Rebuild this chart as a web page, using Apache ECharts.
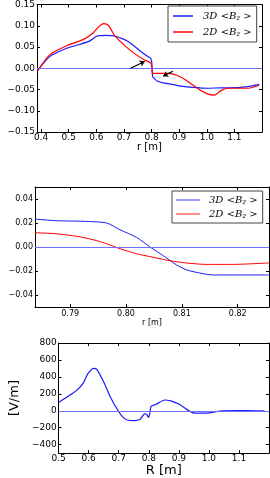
<!DOCTYPE html>
<html><head><meta charset="utf-8">
<script src="https://cdn.jsdelivr.net/npm/echarts@6/dist/echarts.min.js"></script>
<style>html,body{margin:0;padding:0;background:#fff}#c{width:270px;height:478px}</style>
</head><body><div id="c"></div>
<script>
// ---- Panel 1: <Bz> vs r ----
const p1BlueR = [0.386,0.432,0.493,0.542,0.578,0.603,0.634,0.663,0.700,0.724,0.761,0.785,0.797,0.801,0.804,0.810,0.820,0.846,0.875,0.907,0.950,1.004,1.050,1.077,1.140,1.190];
const p1BlueV = [-0.007,0.028,0.047,0.0565,0.065,0.076,0.0775,0.076,0.068,0.059,0.0395,0.028,0.023,0.012,-0.020,-0.024,-0.030,-0.035,-0.038,-0.042,-0.045,-0.047,-0.046,-0.046,-0.044,-0.038];
const p1RedR = [0.386,0.432,0.493,0.554,0.585,0.609,0.627,0.645,0.665,0.700,0.736,0.773,0.797,0.801,0.804,0.820,0.860,0.907,0.955,0.980,1.004,1.028,1.053,1.077,1.150,1.190];
const p1RedV = [-0.007,0.032,0.053,0.068,0.081,0.098,0.105,0.100,0.078,0.055,0.0356,0.020,0.012,0.000,-0.012,-0.012,-0.012,-0.021,-0.042,-0.053,-0.061,-0.063,-0.052,-0.047,-0.047,-0.040];
const p1ArrowFrom = [[0.724,0.000],[0.877,-0.007]];
const p1ArrowTo = [[0.775,0.016],[0.842,-0.0186]];
const p1XTicks = [0.4,0.5,0.6,0.7,0.8,0.9,1.0,1.1];
const p1YTicks = [-0.15,-0.10,-0.05,0.00,0.05,0.10,0.15];

// ---- Panel 2: zoom near r = 0.8 ----
const p2BlueR = [0.7837,0.7876,0.7923,0.7965,0.7989,0.8019,0.8043,0.8067,0.8090,0.8108,0.8132,0.8156,0.8192,0.8256];
const p2BlueV = [0.0233,0.0219,0.0214,0.0200,0.0144,0.0080,0.0000,-0.0073,-0.0148,-0.0190,-0.0217,-0.0233,-0.0233,-0.0233];
const p2RedR = [0.7837,0.7876,0.7912,0.7941,0.7965,0.7989,0.8019,0.8049,0.8078,0.8108,0.8144,0.8190,0.8256];
const p2RedV = [0.0119,0.0110,0.0089,0.0061,0.0028,-0.0014,-0.0056,-0.0086,-0.0114,-0.0133,-0.0145,-0.0145,-0.0133];
const p2XTicks = [0.79,0.80,0.81,0.82];
const p2YTicks = [-0.04,-0.02,0.00,0.02,0.04];

// ---- Panel 3: field [V/m] vs R ----
const p3R = [0.500,0.532,0.562,0.582,0.597,0.617,0.627,0.652,0.672,0.698,0.713,0.728,0.753,0.771,0.786,0.793,0.799,0.804,0.808,0.823,0.853,0.873,0.903,0.933,0.953,0.983,1.013,1.044,1.100,1.150,1.185];
const p3V = [98,171,247,326,435,500,489,326,163,0,-72,-109,-117,-101,-36,-43,-79,-20,54,73,127,116,73,0,-29,-29,-18,0,2,0,0];
const p3XTicks = [0.5,0.6,0.7,0.8,0.9,1.0,1.1];
const p3YTicks = [-400,-200,0,200,400,600,800];

const zip = (a,b) => a.map((x,i)=>[x,b[i]]);
const minus = s => s.replace('-', '\u2212');
const FONT = 'DejaVu Sans';
const BLUE = '#1a1aff', RED = '#ff0000', ZERO = '#6f6fff';

function xPair(grid, min, max, ticks, dec, fs, margin, name, nameGap, nameSize) {
  return [{
    type:'value', gridIndex:grid, min:min, max:max, position:'bottom',
    name:name, nameLocation:'middle', nameGap:nameGap,
    nameTextStyle:{fontFamily:FONT, fontSize:nameSize, color:'#000'},
    axisLine:{show:true, onZero:false, lineStyle:{color:'#000', width:1}},
    axisTick:{show:true, inside:true, length:3, customValues:ticks, lineStyle:{color:'#000'}},
    axisLabel:{show:true, customValues:ticks, margin:margin, fontFamily:FONT, fontSize:fs, color:'#000',
      formatter:v=>minus(v.toFixed(dec))},
    splitLine:{show:false}
  },{
    type:'value', gridIndex:grid, min:min, max:max, position:'top',
    axisLine:{show:true, onZero:false, lineStyle:{color:'#000', width:1}},
    axisTick:{show:true, inside:true, length:3, customValues:ticks, lineStyle:{color:'#000'}},
    axisLabel:{show:false}, splitLine:{show:false}
  }];
}
function yPair(grid, min, max, ticks, dec, fs, name, nameGap) {
  return [{
    type:'value', gridIndex:grid, min:min, max:max, position:'left',
    name:name||'', nameLocation:'middle', nameGap:nameGap||0,
    nameTextStyle:{fontFamily:FONT, fontSize:13, color:'#000'},
    axisLine:{show:true, onZero:false, lineStyle:{color:'#000', width:1}},
    axisTick:{show:true, inside:true, length:3, customValues:ticks, lineStyle:{color:'#000'}},
    axisLabel:{show:true, customValues:ticks, margin:2, fontFamily:FONT, fontSize:fs, color:'#000',
      formatter:v=>minus(v.toFixed(dec))},
    splitLine:{show:false}
  },{
    type:'value', gridIndex:grid, min:min, max:max, position:'right',
    axisLine:{show:true, onZero:false, lineStyle:{color:'#000', width:1}},
    axisTick:{show:true, inside:true, length:3, customValues:ticks, lineStyle:{color:'#000'}},
    axisLabel:{show:false}, splitLine:{show:false}
  }];
}

const legendRich = {
  it:{fontFamily:'DejaVu Serif', fontStyle:'italic', fontSize:10, color:'#000'},
  n:{fontFamily:'DejaVu Serif', fontSize:10, color:'#000'},
  sub:{fontFamily:'DejaVu Serif', fontStyle:'italic', fontSize:7, color:'#000', padding:[4,0,0,0]}
};
const legendFmt = name => (name.startsWith('3D') ? '{it|3D} {n|<}{it|B}{sub|z}{n| >}' : '{it|2D} {n|<}{it|B}{sub|z}{n| >}');

function lineSeries(name, x, y, xi, yi, color, w, zero) {
  const s = {type:'line', name:name, xAxisIndex:xi, yAxisIndex:yi, data:zip(x,y),
    showSymbol:false, symbol:'none', smooth:0.25,
    lineStyle:{color:color, width:w}, itemStyle:{color:color}, z:3, animation:false};
  if (zero) s.markLine = {silent:true, symbol:'none', label:{show:false},
    lineStyle:{color:ZERO, width:1, type:'solid'}, data:[{yAxis:0}], animation:false};
  return s;
}

const option = {
  animation:false,
  backgroundColor:'#fff',
  grid:[
    {left:37, top:3, width:225, height:129},
    {left:35, top:187, width:234, height:120},
    {left:36, top:343, width:233, height:120}
  ],
  xAxis:[
    ...xPair(0, 0.385, 1.2, p1XTicks, 1, 9, 1, 'r [m]', 8, 10),
    ...xPair(1, 0.7837, 0.8256, p2XTicks, 2, 8, 3, 'r [m]', 10, 8),
    ...xPair(2, 0.5, 1.2, p3XTicks, 1, 9, 1, 'R [m]', 9, 13)
  ],
  yAxis:[
    ...yPair(0, -0.15, 0.15, p1YTicks, 2, 9),
    ...yPair(1, -0.05, 0.05, p2YTicks, 2, 8),
    ...yPair(2, -500, 800, p3YTicks, 0, 9, '[V/m]', 30)
  ],
  legend:[
    {show:true, data:['3D1','2D1'], orient:'vertical', left:168, top:6, padding:[4,5,4,5], itemGap:4,
     itemWidth:20, itemHeight:1.5, icon:'rect', borderColor:'#444', borderWidth:1, backgroundColor:'#fff',
     formatter:legendFmt, textStyle:{lineHeight:12, padding:[0,0,0,5], rich:legendRich}},
    {show:true, data:['3D2','2D2'], orient:'vertical', left:172, top:191, padding:[3,5,3,4], itemGap:2,
     itemWidth:24, itemHeight:1.5, icon:'rect', borderColor:'#444', borderWidth:1, backgroundColor:'#fff',
     itemStyle:{opacity:0.6},
     formatter:legendFmt, textStyle:{lineHeight:12, padding:[0,0,0,4], rich:legendRich}}
  ],
  series:[
    lineSeries('3D1', p1BlueR, p1BlueV, 0, 0, BLUE, 1.2, true),
    lineSeries('2D1', p1RedR, p1RedV, 0, 0, RED, 1.2, false),
    {type:'lines', coordinateSystem:'cartesian2d', xAxisIndex:0, yAxisIndex:0,
     data:p1ArrowFrom.map((f,i)=>({coords:[f, p1ArrowTo[i]]})),
     symbol:['none','arrow'], symbolSize:5, lineStyle:{color:'#000', width:1.2, opacity:1}, z:5, animation:false},
    lineSeries('3D2', p2BlueR, p2BlueV, 2, 2, BLUE, 1, true),
    lineSeries('2D2', p2RedR, p2RedV, 2, 2, RED, 1, false),
    lineSeries('E3', p3R, p3V, 4, 4, BLUE, 1.2, true)
  ]
};
const chart = echarts.init(document.getElementById('c'), null, {renderer:'canvas'});
chart.setOption(option);
</script></body></html>
